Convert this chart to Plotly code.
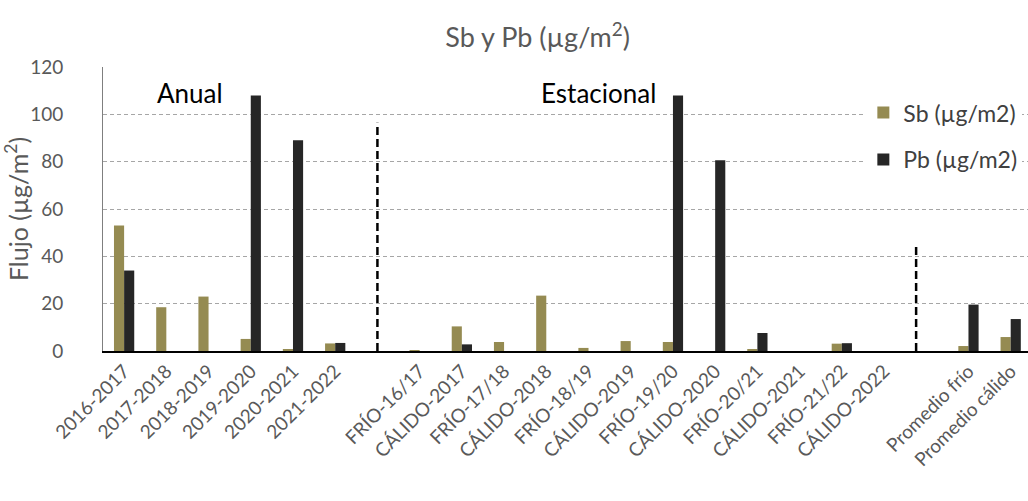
import plotly.graph_objects as go

categories = ["2016-2017", "2017-2018", "2018-2019", "2019-2020", "2020-2021", "2021-2022", " ",
              "FRÍO-16/17", "CÁLIDO-2017", "FRÍO-17/18", "CÁLIDO-2018", "FRÍO-18/19", "CÁLIDO-2019",
              "FRÍO-19/20", "CÁLIDO-2020", "FRÍO-20/21", "CÁLIDO-2021", "FRÍO-21/22", "CÁLIDO-2022", "  ",
              "Promedio frío", "Promedio cálido"]
sb = [53, 18.5, 23, 5.1, 0.8, 3.2, None,
      0.3, 10.4, 3.8, 23.4, 1.3, 4.2, 3.8, 0, 0.7, 0, 3.1, 0, None,
      2.1, 5.9]
pb = [34, 0, 0, 108, 89, 3.4, None,
      0, 2.8, 0, 0, 0, 0, 108, 80.6, 7.6, 0, 3.3, 0, None,
      19.6, 13.5]

font = "Lato, 'Open Sans', sans-serif"
grey = "#595959"

fig = go.Figure()
fig.add_trace(go.Bar(x=categories, y=sb, name="Sb (µg/m2)", marker_color="#958B52",
                     marker_line_width=0, legendgroup="a"))
fig.add_trace(go.Bar(x=categories, y=pb, name="Pb (µg/m2)", marker_color="#262626",
                     marker_line_width=0, legendgroup="b"))

# separators
fig.add_shape(type="line", xref="x", yref="y", x0=6.0, x1=6.0, y0=0, y1=96.4,
              line=dict(color="black", width=2.5, dash="8px,4px"))
fig.add_shape(type="line", xref="x", yref="y", x0=18.76, x1=18.76, y0=0, y1=44.5,
              line=dict(color="black", width=2.5, dash="8px,4px"))

fig.add_annotation(x=1.56, y=109, xref="x", yref="y", text="Anual", showarrow=False,
                   font=dict(family=font, size=26, color="black"))
fig.add_annotation(x=11.23, y=109, xref="x", yref="y", text="Estacional", showarrow=False,
                   font=dict(family=font, size=26, color="black"))

fig.update_layout(
    width=1028, height=501,
    margin=dict(l=103, r=0, t=67, b=150),
    paper_bgcolor="white", plot_bgcolor="white",
    barmode="group", bargap=0.52, bargroupgap=0,
    font=dict(family=font, color=grey),
    title=dict(text="Sb y Pb (µg/m<sup>2</sup>)", x=0.523, xanchor="center", y=0.925, yanchor="middle",
               font=dict(family=font, size=27, color=grey)),
    legend=dict(x=0.822, y=0.915, xanchor="left", yanchor="top", bgcolor="white",
                font=dict(family=font, size=23, color="#404040"),
                traceorder="grouped", tracegroupgap=14, itemwidth=30),
    showlegend=True,
)
fig.update_xaxes(type="category", range=[-0.5, 21.41], tickangle=-45,
                 tickfont=dict(family=font, size=19, color=grey), automargin=False,
                 showline=True, linecolor="black", linewidth=1.5, ticks="",
                 showgrid=False)
fig.update_yaxes(range=[0, 120], dtick=20, tickfont=dict(family=font, size=19, color=grey),
                 automargin=False, ticklabelposition="outside", ticklabelstandoff=35,
                 ticks="",
                 showgrid=True, gridcolor="#a6a6a6", griddash="4px,3px", gridwidth=1,
                 showline=True, linecolor="#7f7f7f", linewidth=1,
                 zeroline=False,
                 title=dict(text="Flujo (µg/m<sup>2</sup>)", font=dict(family=font, size=25, color=grey),
                            standoff=2))

fig.write_html("out.html")
